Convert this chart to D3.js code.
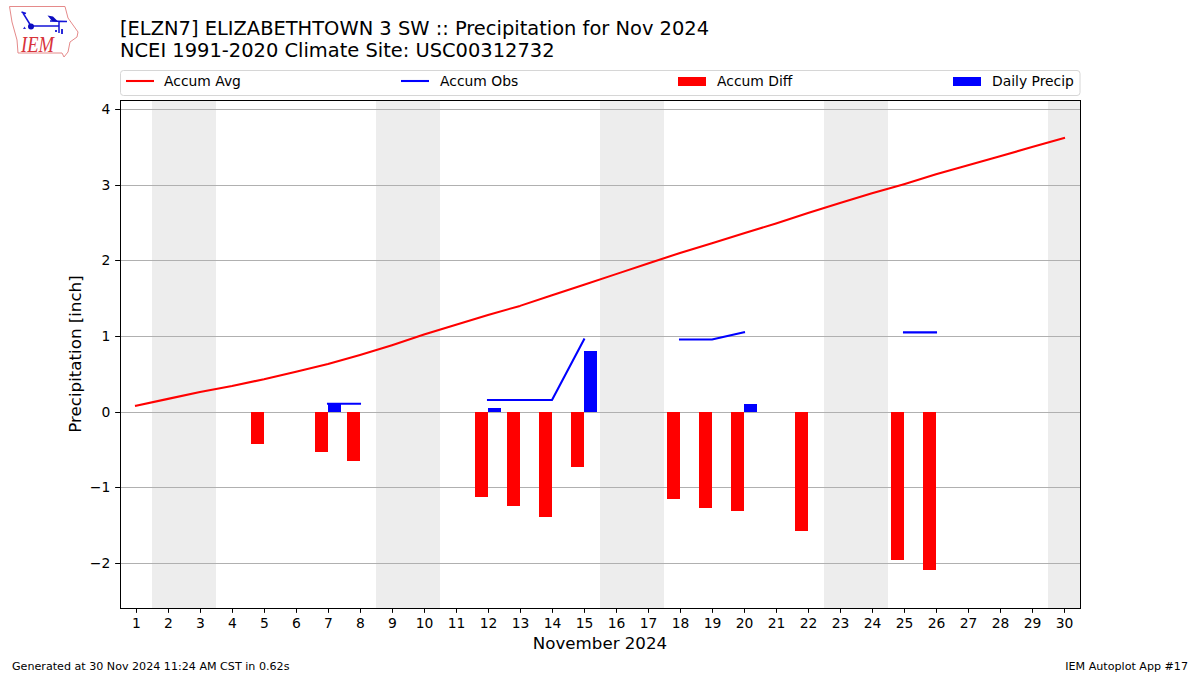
<!DOCTYPE html>
<html><head><meta charset="utf-8">
<script src="https://cdn.jsdelivr.net/npm/d3@7"></script>
<style>
html,body{margin:0;padding:0;background:#fff}
svg{display:block}
text{font-family:"DejaVu Sans",sans-serif;fill:#000}
</style></head><body>
<svg id="c" width="1200" height="675"></svg>
<script>
const days = d3.range(1, 31);
const weekendSpans = [[1.5,3.5],[8.5,10.5],[15.5,17.5],[22.5,24.5],[29.5,30.5]];
const accumAvg = [0.085,0.175,0.265,0.345,0.435,0.535,0.635,0.755,0.885,1.025,1.155,1.285,1.405,1.545,1.685,1.825,1.965,2.105,2.235,2.365,2.495,2.635,2.765,2.895,3.015,3.145,3.265,3.385,3.505,3.625];
const accumObs = [null,null,null,null,null,null,0.11,0.11,null,null,null,0.16,0.16,0.16,0.96,null,null,0.96,0.96,1.055,null,null,null,null,1.055,1.055,null,null,null,null];
const accumDiff = [null,null,null,null,-0.42,null,-0.53,-0.65,null,null,null,-1.12,-1.24,-1.39,-0.73,null,null,-1.15,-1.27,-1.31,null,-1.57,null,null,-1.96,-2.09,null,null,null,null];
const dailyPrecip = [null,null,null,null,null,null,0.11,null,null,null,null,0.05,null,null,0.81,null,null,null,null,0.11,null,null,null,null,null,null,null,null,null,null];
const yTicks = [-2,-1,0,1,2,3,4];
const titleLines = ["[ELZN7] ELIZABETHTOWN 3 SW :: Precipitation for Nov 2024","NCEI 1991-2020 Climate Site: USC00312732"];
const legendItems = [
  {label:"Accum Avg",kind:"line",color:"#ff0000",x:126,tx:164},
  {label:"Accum Obs",kind:"line",color:"#0000ff",x:401,tx:440},
  {label:"Accum Diff",kind:"bar",color:"#ff0000",x:678,tx:717},
  {label:"Daily Precip",kind:"bar",color:"#0000ff",x:953,tx:992}
];

const L=120,R=1080,T=100,B=608;
const x=d3.scaleLinear().domain([0.5,30.5]).range([L,R]);
const y=d3.scaleLinear().domain([4.1283,-2.5913]).range([T,B]);
const snap=v=>Math.floor(v)+0.5;
const barW=0.4;
const svg=d3.select("#c");

// logo
const logo=svg.append("g");
logo.append("path")
 .attr("d","M9.5 6.5 L65 6.5 L68 18 L73 25 L78 32 L77 37 L70 42 L68 52 L64 57 L62 53 L18 53 L17 40 L12 22 Z")
 .attr("fill","none").attr("stroke","#e58a8a").attr("stroke-width",1);
logo.append("path").attr("d","M31 26 L59 26 M59 22 L59 33 M23 13 L31 26 M21.5 12 L26 13.5 M50 21 L67 21.5")
 .attr("stroke","#1414d8").attr("stroke-width",1.5).attr("fill","none");
logo.append("circle").attr("cx",31).attr("cy",26.5).attr("r",3).attr("fill","#0c0cc0");
logo.append("path").attr("d","M47.5 15.5 L53 16.5 L58 21.5 L52 21 Z").attr("fill","#0c0cc0");
logo.append("path").attr("d","M23 29 L26 29 L24.5 26.5 Z M61 29 L63 29 L63 34 L61 34 Z M55 30 L57 30 L57 32 L55 32 Z").attr("fill","#2a2ad8");
logo.append("text").attr("x",21).attr("y",52).style("font-family","'Liberation Serif',serif").style("font-style","italic").style("font-size","23px").style("fill","#d8333a").attr("textLength",33).attr("lengthAdjust","spacingAndGlyphs").text("IEM");

// titles
svg.append("g").selectAll("text").data(titleLines).join("text")
 .attr("x",120).attr("y",(d,i)=>35+i*22).style("font-size","19.44px").text(d=>d);

// shading
svg.append("g").selectAll("rect").data(weekendSpans).join("rect")
 .attr("x",d=>x(d[0])).attr("width",d=>x(d[1])-x(d[0])).attr("y",T).attr("height",B-T).attr("fill","#ededed");

// grid
svg.append("g").selectAll("line").data(yTicks).join("line")
 .attr("x1",L).attr("x2",R).attr("y1",d=>snap(y(d))).attr("y2",d=>snap(y(d)))
 .attr("stroke","#b0b0b0").attr("stroke-width",1);

// bars
const rows=days.map((d,i)=>({d,diff:accumDiff[i],daily:dailyPrecip[i]}));
svg.append("g").attr("shape-rendering","crispEdges").selectAll("rect").data(rows.filter(r=>r.diff!==null)).join("rect")
 .attr("x",r=>x(r.d-barW)).attr("width",r=>x(r.d)-x(r.d-barW))
 .attr("y",y(0)).attr("height",r=>y(r.diff)-y(0)).attr("fill","#ff0000");
svg.append("g").attr("shape-rendering","crispEdges").selectAll("rect").data(rows.filter(r=>r.daily!==null)).join("rect")
 .attr("x",r=>x(r.d)).attr("width",r=>x(r.d+barW)-x(r.d))
 .attr("y",r=>y(r.daily)).attr("height",r=>y(0)-y(r.daily)).attr("fill","#0000ff");

// lines
const lineGen=d3.line().defined(d=>d[1]!==null).x(d=>x(d[0])).y(d=>y(d[1]));
svg.append("path").attr("d",lineGen(days.map((d,i)=>[d,accumAvg[i]])))
 .attr("fill","none").attr("stroke","#ff0000").attr("stroke-width",2.08).attr("stroke-linecap","square").attr("stroke-linejoin","round");
svg.append("path").attr("d",lineGen(days.map((d,i)=>[d,accumObs[i]])))
 .attr("fill","none").attr("stroke","#0000ff").attr("stroke-width",2.08).attr("stroke-linecap","square").attr("stroke-linejoin","round");

// axes
const xAxis=d3.axisBottom(x).tickValues(days).tickFormat(d3.format("d")).tickSize(4.86).tickPadding(4.86);
const yAxis=d3.axisLeft(y).tickValues(yTicks).tickFormat(d=>d<0?"\u2212"+Math.abs(d):String(d)).tickSize(4.86).tickPadding(4.86);
const gx=svg.append("g").attr("transform",`translate(0,${B})`).call(xAxis);
const gy=svg.append("g").attr("transform",`translate(${L},0)`).call(yAxis);
[gx,gy].forEach(g=>{
  g.select(".domain").remove();
  g.selectAll("line").attr("stroke","#000").attr("stroke-width",1);
  g.selectAll("text").style("font-size","13.89px").style("font-family","'DejaVu Sans',sans-serif").attr("fill","#000");
});
gy.selectAll(".tick").attr("transform",d=>`translate(0,${snap(y(d))})`);
svg.append("rect").attr("x",L+0.5).attr("y",T+0.5).attr("width",R-L).attr("height",B-T)
 .attr("fill","none").attr("stroke","#000").attr("stroke-width",1);

// axis labels
svg.append("text").attr("x",600).attr("y",649).attr("text-anchor","middle").style("font-size","16.67px").text("November 2024");
svg.append("text").attr("transform","translate(80.5,354) rotate(-90)").attr("text-anchor","middle").style("font-size","16.67px").text("Precipitation [inch]");

// legend
svg.append("rect").attr("x",120.5).attr("y",70.5).attr("width",959.5).attr("height",25).attr("rx",3).attr("ry",3)
 .attr("fill","#fff").attr("stroke","#d6d6d6").attr("stroke-width",1);
const lg=svg.append("g").selectAll("g").data(legendItems).join("g");
lg.filter(d=>d.kind==="line").append("line").attr("x1",d=>d.x).attr("x2",d=>d.x+28).attr("y1",81).attr("y2",81).attr("stroke",d=>d.color).attr("stroke-width",2.08);
lg.filter(d=>d.kind==="bar").append("rect").attr("x",d=>d.x).attr("y",77).attr("width",28).attr("height",9).attr("fill",d=>d.color);
lg.append("text").attr("x",d=>d.tx).attr("y",86).style("font-size","13.89px").text(d=>d.label);

// footer
svg.append("text").attr("x",12).attr("y",670).style("font-size","11.11px").text("Generated at 30 Nov 2024 11:24 AM CST in 0.62s");
svg.append("text").attr("x",1188).attr("y",670).attr("text-anchor","end").style("font-size","11.11px").text("IEM Autoplot App #17");
</script></body></html>
